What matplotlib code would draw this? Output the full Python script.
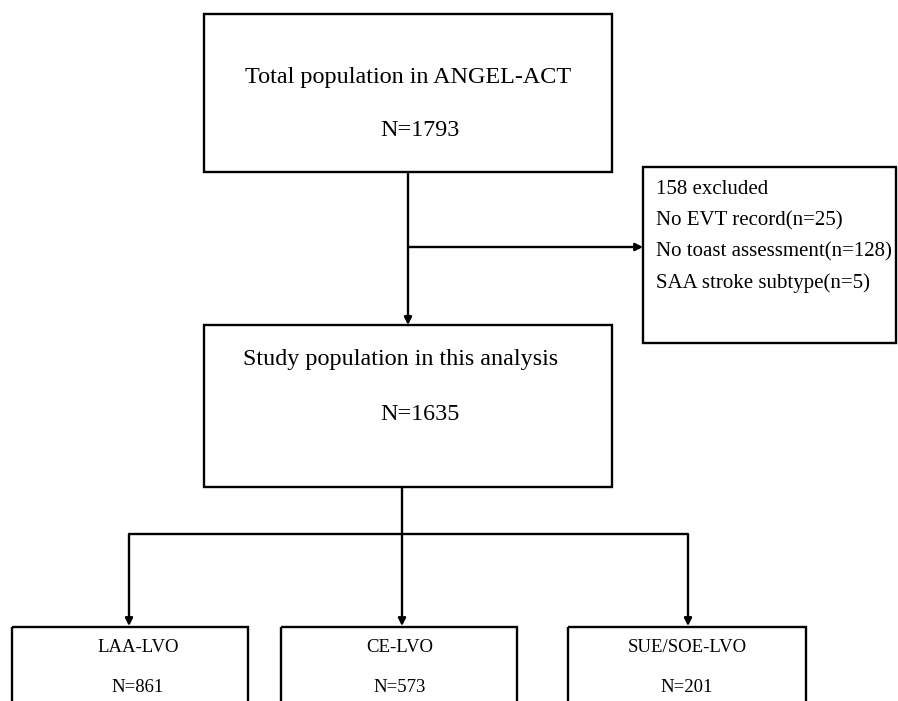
import matplotlib.pyplot as plt
from matplotlib.patches import Rectangle

plt.rcParams["font.family"] = ["Liberation Serif", "DejaVu Serif"]

# flowchart text
top_title = "Total population in ANGEL-ACT"
top_n = "N=1793"
study_title = "Study population in this analysis"
study_n = "N=1635"
excl_lines = ["158 excluded",
              "No EVT record(n=25)",
              "No toast assessment(n=128)",
              "SAA stroke subtype(n=5)"]
groups = ["LAA-LVO", "CE-LVO", "SUE/SOE-LVO"]
group_n = ["N=861", "N=573", "N=201"]

W, H = 898, 701
fig = plt.figure(figsize=(W / 100, H / 100), dpi=100)
ax = fig.add_axes([0, 0, 1, 1])
ax.set_xlim(0, W)
ax.set_ylim(H, 0)
ax.axis("off")

LW = 1.7
def box(x0, y0, x1, y1):
    ax.add_patch(Rectangle((x0, y0), x1 - x0, y1 - y0, fill=False,
                           edgecolor="black", lw=LW))

def line(xs, ys):
    ax.plot(xs, ys, color="black", lw=LW, solid_capstyle="butt")

def arrow(x0, y0, x1, y1):
    ax.annotate("", xy=(x1, y1), xytext=(x0, y0),
                arrowprops=dict(arrowstyle="-|>", color="black", lw=LW,
                                mutation_scale=11, shrinkA=0, shrinkB=0))

# top box
box(204, 14, 612, 172)
ax.text(408, 77, top_title, ha="center", va="center", fontsize=17.4)
ax.text(420, 130, top_n, ha="center", va="center", fontsize=17.4)

# main stem and exclusion branch
arrow(408, 172, 408, 325)
arrow(408, 247, 643, 247)
box(643, 167, 896, 343)
for i, s in enumerate(excl_lines):
    ax.text(656, 190 + i * 31, s, ha="left", va="center", fontsize=15)

# study box
box(204, 325, 612, 487)
ax.text(401, 360, study_title, ha="center", va="center", fontsize=17.4)
ax.text(420, 415, study_n, ha="center", va="center", fontsize=17.4)

# split to groups
line([402, 402], [487, 534])
gx = [129, 402, 688]
tx = [138, 400, 687]
bx = [(12, 248), (281, 517), (568, 806)]
line([gx[0], gx[-1]], [534, 534])
for x, t, (b0, b1), g, n in zip(gx, tx, bx, groups, group_n):
    arrow(x, 534, x, 626)
    box(b0, 627, b1, 720)
    ax.text(t, 648, g, ha="center", va="center", fontsize=13.5)
    ax.text(t, 688, n, ha="center", va="center", fontsize=13.5)

fig.savefig("out.png", dpi=100, facecolor="white")
